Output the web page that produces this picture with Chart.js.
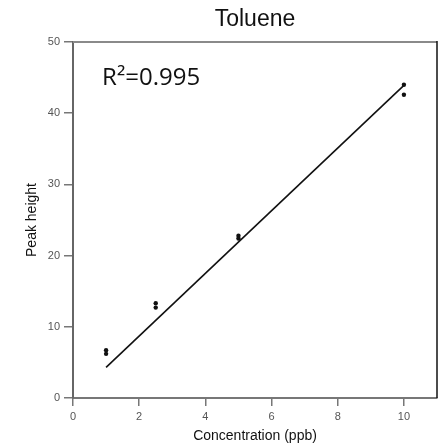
<!DOCTYPE html>
<html>
<head>
<meta charset="utf-8">
<script src="https://cdn.jsdelivr.net/npm/chart.js@4/dist/chart.umd.min.js"></script>
<style>
html,body{margin:0;padding:0;background:#fff;}
#wrap{width:441px;height:447px;position:relative;}
</style>
</head>
<body>
<div id="wrap"><canvas id="c" width="441" height="447"></canvas></div>
<script>
const chartTitle = "Toluene";
const rSquaredLabel = "R²=0.995";
const xAxisTitle = "Concentration (ppb)";
const yAxisTitle = "Peak height";
const concentration = [1, 1, 2.5, 2.5, 5, 5, 10, 10];
const peakHeight = [6.2, 6.7, 13.3, 12.7, 22.8, 22.4, 44.0, 42.6];
const fitX = [1, 10];
const fitY = [4.3, 43.9];
const xTicks = [0, 2, 4, 6, 8, 10];
const yTicks = [0, 10, 20, 30, 40, 50];

const framePlugin = {
  id: 'frame',
  afterDraw(chart) {
    const ctx = chart.ctx, a = chart.chartArea;
    ctx.save();
    ctx.strokeStyle = '#8a8a8a';
    ctx.lineWidth = 2;
    ctx.beginPath(); ctx.moveTo(a.left, a.top); ctx.lineTo(a.right, a.top); ctx.stroke();
    ctx.strokeStyle = '#111';
    ctx.lineWidth = 1.5;
    ctx.beginPath(); ctx.moveTo(a.right, a.top - 1); ctx.lineTo(a.right, a.bottom); ctx.stroke();
    ctx.fillStyle = '#111';
    ctx.font = '23px "Liberation Sans", Arial, sans-serif';
    ctx.textAlign = 'center';
    ctx.textBaseline = 'alphabetic';
    ctx.fillText(chartTitle, (a.left + a.right) / 2, 26);
    const xs = chart.scales.x, ys = chart.scales.y;
    ctx.font = '24px "Open Sans", sans-serif';
    ctx.textAlign = 'left';
    ctx.fillText(rSquaredLabel, xs.getPixelForValue(0.88), ys.getPixelForValue(43.9));
    ctx.restore();
  }
};

new Chart(document.getElementById('c'), {
  type: 'scatter',
  data: {
    datasets: [
      {
        type: 'line',
        data: fitX.map((x, i) => ({x: x, y: fitY[i]})),
        borderColor: '#111',
        borderWidth: 1.6,
        pointRadius: 0,
        fill: false
      },
      {
        data: concentration.map((x, i) => ({x: x, y: peakHeight[i]})),
        backgroundColor: '#111',
        borderColor: '#111',
        pointRadius: 2.2,
        borderWidth: 0
      }
    ]
  },
  plugins: [framePlugin],
  options: {
    responsive: false,
    animation: false,
    layout: {padding: {top: 42, right: 4, left: 0, bottom: 0}},
    plugins: {legend: {display: false}, tooltip: {enabled: false}, title: {display: false}},
    scales: {
      x: {
        type: 'linear', min: 0, max: 11,
        afterBuildTicks(s) { s.ticks = xTicks.map(v => ({value: v})); },
        afterFit(s) { s.height = 49; },
        border: {display: true, color: '#777', width: 2},
        grid: {drawOnChartArea: false, drawTicks: true, tickLength: 8, color: '#777', lineWidth: 1.5},
        ticks: {color: '#555', font: {size: 11, family: '"Liberation Sans", Arial, sans-serif'}, padding: 4, maxRotation: 0},
        title: {display: true, text: xAxisTitle, color: '#111', font: {size: 14, family: '"Liberation Sans", Arial, sans-serif'}, padding: {top: 0, bottom: 2}}
      },
      y: {
        type: 'linear', min: 0, max: 50,
        afterBuildTicks(s) { s.ticks = yTicks.map(v => ({value: v})); },
        afterFit(s) { s.width = 73; },
        border: {display: true, color: '#666', width: 2},
        grid: {drawOnChartArea: false, drawTicks: true, tickLength: 9, color: '#777', lineWidth: 1.5},
        ticks: {color: '#555', font: {size: 11, family: '"Liberation Sans", Arial, sans-serif'}, padding: 4},
        title: {display: true, text: yAxisTitle, color: '#111', font: {size: 14, family: '"Liberation Sans", Arial, sans-serif'}, padding: {top: 24, bottom: 0}}
      }
    }
  }
});
</script>
</body>
</html>
